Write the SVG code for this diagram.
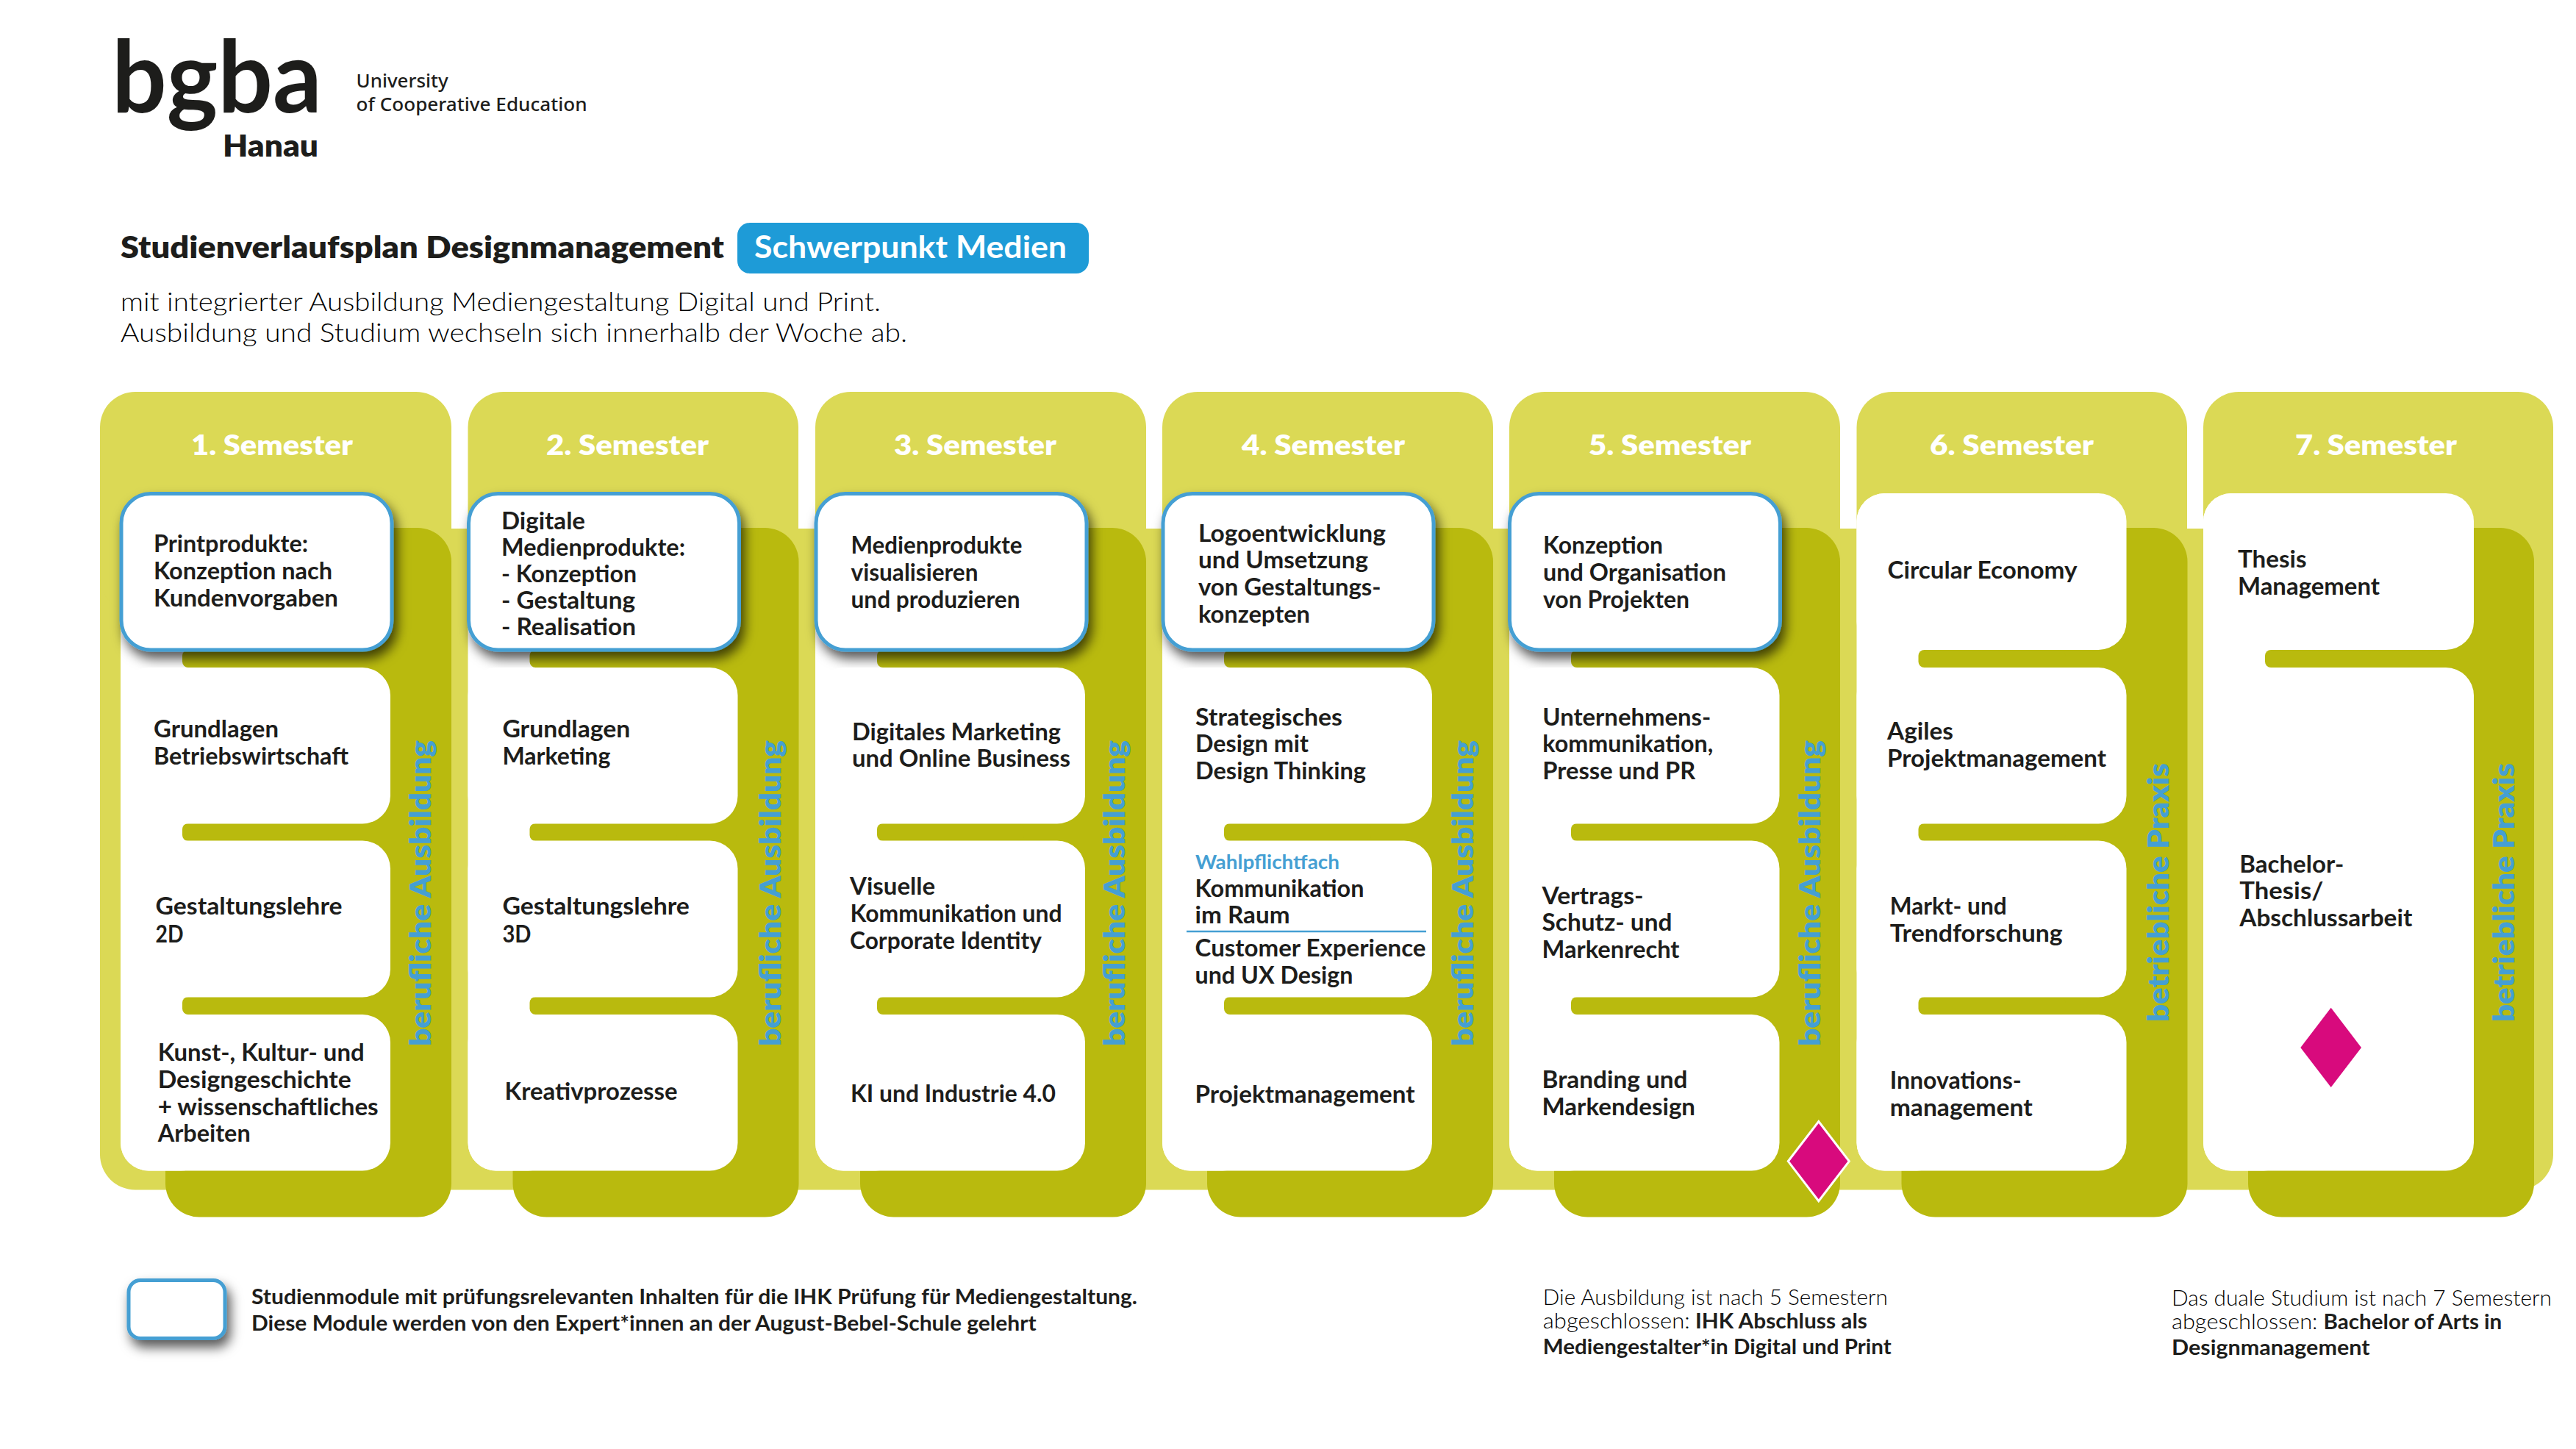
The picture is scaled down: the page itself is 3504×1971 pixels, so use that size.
<svg xmlns="http://www.w3.org/2000/svg" width="3504" height="1971" viewBox="0 0 3504 1971">
<style>
text{font-family:"Lato","Liberation Sans",sans-serif;fill:#1d1d1b}
.t{font-size:32px;font-weight:700;transform:translate(-1px,1.5px)}
.sem{font-size:37px;font-weight:800;fill:#fff}
.rot{font-size:40px;font-weight:800;fill:#459fd3}
.light{fill:#dbd955}
.dark{fill:#b9ba0e}
.card{fill:#fff}
.hi{fill:#fff;stroke:#459fd3;stroke-width:5;filter:url(#sh)}
.dia{fill:#d80a7d}
.thin{font-size:29px;font-weight:300;fill:#000;transform:translateY(2px)}
.bold{font-size:29px;font-weight:700}
.nb{transform:translateY(2px)}
.logo{font-family:"Noto Sans","Lato",sans-serif;font-size:26px;font-weight:500}
</style>
<defs>
<filter id="sh" x="-20%" y="-20%" width="140%" height="170%"><feDropShadow dx="5" dy="10" stdDeviation="8" flood-color="#000" flood-opacity=".65"/></filter>
<rect id="bar" width="200" height="24" rx="8" class="dark"/>
</defs>
<rect width="3504" height="1971" fill="#fff"/>

<g id="header">
<text x="152" y="153" font-size="136" font-weight="700" textLength="286" lengthAdjust="spacingAndGlyphs">bgba</text>
<text x="303" y="213" font-size="42" font-weight="800" textLength="130" lengthAdjust="spacingAndGlyphs">Hanau</text>
<text class="logo" x="484.6" y="119" textLength="125" lengthAdjust="spacingAndGlyphs">University</text>
<text class="logo" x="484.6" y="151" textLength="314" lengthAdjust="spacingAndGlyphs">of Cooperative Education</text>
<text x="164" y="351" font-size="42" font-weight="800" textLength="821" lengthAdjust="spacingAndGlyphs">Studienverlaufsplan Designmanagement</text>
<rect x="1003" y="303" width="478" height="69" rx="17" fill="#1e9bd7"/>
<text x="1026" y="351" font-size="42" font-weight="700" style="fill:#fff" textLength="425" lengthAdjust="spacingAndGlyphs">Schwerpunkt Medien</text>
<text x="164" y="423" font-size="35" font-weight="300" style="fill:#000" textLength="1034" lengthAdjust="spacingAndGlyphs">mit integrierter Ausbildung Mediengestaltung Digital und Print.</text>
<text x="164" y="465" font-size="35" font-weight="300" style="fill:#000" textLength="1070" lengthAdjust="spacingAndGlyphs">Ausbildung und Studium wechseln sich innerhalb der Woche ab.</text>
</g>

<g id="background">
<rect class="light" x="136" y="719" width="3337" height="899.5" rx="48"/>
<rect class="light" x="136" y="533" width="478" height="300" rx="48"/>
<rect class="light" x="636.5" y="533" width="449.5" height="300" rx="48"/>
<rect class="light" x="1109" y="533" width="450" height="300" rx="48"/>
<rect class="light" x="1581" y="533" width="450" height="300" rx="48"/>
<rect class="light" x="2053" y="533" width="450" height="300" rx="48"/>
<rect class="light" x="2525.5" y="533" width="449.5" height="300" rx="48"/>
<rect class="light" x="2997" y="533" width="476" height="300" rx="48"/>
<rect class="dark" x="225" y="718" width="389" height="937.5" rx="46"/>
<rect class="dark" x="697.5" y="718" width="389" height="937.5" rx="46"/>
<rect class="dark" x="1170" y="718" width="389" height="937.5" rx="46"/>
<rect class="dark" x="1642" y="718" width="389" height="937.5" rx="46"/>
<rect class="dark" x="2114" y="718" width="389" height="937.5" rx="46"/>
<rect class="dark" x="2586.5" y="718" width="389" height="937.5" rx="46"/>
<rect class="dark" x="3058" y="718" width="389" height="937.5" rx="46"/>
<rect class="card" x="164" y="671" width="120" height="921.5" rx="38"/>
<rect class="card" x="636.5" y="671" width="120" height="921.5" rx="38"/>
<rect class="card" x="1109" y="671" width="120" height="921.5" rx="38"/>
<rect class="card" x="1581" y="671" width="120" height="921.5" rx="38"/>
<rect class="card" x="2053" y="671" width="120" height="921.5" rx="38"/>
<rect class="card" x="2525.5" y="671" width="120" height="921.5" rx="38"/>
<rect class="card" x="2997" y="671" width="120" height="921.5" rx="38"/>
</g>

<g id="connectors">
<use href="#bar" x="248" y="884"/><use href="#bar" x="248" y="1120"/><use href="#bar" x="248" y="1356"/>
<use href="#bar" x="720.5" y="884"/><use href="#bar" x="720.5" y="1120"/><use href="#bar" x="720.5" y="1356"/>
<use href="#bar" x="1193" y="884"/><use href="#bar" x="1193" y="1120"/><use href="#bar" x="1193" y="1356"/>
<use href="#bar" x="1665" y="884"/><use href="#bar" x="1665" y="1120"/><use href="#bar" x="1665" y="1356"/>
<use href="#bar" x="2137" y="884"/><use href="#bar" x="2137" y="1120"/><use href="#bar" x="2137" y="1356"/>
<use href="#bar" x="2609.5" y="884"/><use href="#bar" x="2609.5" y="1120"/><use href="#bar" x="2609.5" y="1356"/>
<use href="#bar" x="3081" y="884"/>
</g>

<g id="semester-labels">
<text class="sem" x="260" y="618.7" textLength="220" lengthAdjust="spacingAndGlyphs">1. Semester</text>
<text class="sem" x="743" y="618.7" textLength="221" lengthAdjust="spacingAndGlyphs">2. Semester</text>
<text class="sem" x="1216" y="618.7" textLength="221" lengthAdjust="spacingAndGlyphs">3. Semester</text>
<text class="sem" x="1689" y="618.7" textLength="222" lengthAdjust="spacingAndGlyphs">4. Semester</text>
<text class="sem" x="2161" y="618.7" textLength="221" lengthAdjust="spacingAndGlyphs">5. Semester</text>
<text class="sem" x="2625" y="618.7" textLength="223" lengthAdjust="spacingAndGlyphs">6. Semester</text>
<text class="sem" x="3122" y="618.7" textLength="220" lengthAdjust="spacingAndGlyphs">7. Semester</text>
</g>

<g id="side-labels">
<text class="rot" transform="translate(586 1423) rotate(-90)" textLength="416" lengthAdjust="spacingAndGlyphs">berufliche Ausbildung</text>
<text class="rot" transform="translate(1062 1423) rotate(-90)" textLength="416" lengthAdjust="spacingAndGlyphs">berufliche Ausbildung</text>
<text class="rot" transform="translate(1530 1423) rotate(-90)" textLength="416" lengthAdjust="spacingAndGlyphs">berufliche Ausbildung</text>
<text class="rot" transform="translate(2004 1423) rotate(-90)" textLength="416" lengthAdjust="spacingAndGlyphs">berufliche Ausbildung</text>
<text class="rot" transform="translate(2476 1423) rotate(-90)" textLength="416" lengthAdjust="spacingAndGlyphs">berufliche Ausbildung</text>
<text class="rot" transform="translate(2950 1390) rotate(-90)" textLength="352" lengthAdjust="spacingAndGlyphs">betriebliche Praxis</text>
<text class="rot" transform="translate(3420 1390) rotate(-90)" textLength="352" lengthAdjust="spacingAndGlyphs">betriebliche Praxis</text>
</g>

<g id="s1-m1"><rect class="hi" x="165" y="671.5" width="368" height="212.5" rx="40"/>
<text class="t" x="210" y="749.6" textLength="210" lengthAdjust="spacingAndGlyphs">Printprodukte:</text>
<text class="t" x="210" y="786.7" textLength="243" lengthAdjust="spacingAndGlyphs">Konzeption nach</text>
<text class="t" x="210" y="823.5" textLength="251" lengthAdjust="spacingAndGlyphs">Kundenvorgaben</text></g>
<g id="s1-m2"><rect class="card" x="164" y="908" width="367" height="212.5" rx="38"/>
<text class="t" x="210" y="1001.4" textLength="170" lengthAdjust="spacingAndGlyphs">Grundlagen</text>
<text class="t" x="210" y="1038.6" textLength="265" lengthAdjust="spacingAndGlyphs">Betriebswirtschaft</text></g>
<g id="s1-m3"><rect class="card" x="164" y="1143.5" width="367" height="213" rx="38"/>
<text class="t" x="212.5" y="1242.7" textLength="254" lengthAdjust="spacingAndGlyphs">Gestaltungslehre</text>
<text class="t" x="212.5" y="1280" textLength="38" lengthAdjust="spacingAndGlyphs">2D</text></g>
<g id="s1-m4"><rect class="card" x="164" y="1380" width="367" height="212.5" rx="38"/>
<text class="t" x="215.7" y="1441" textLength="281" lengthAdjust="spacingAndGlyphs">Kunst-, Kultur- und</text>
<text class="t" x="215.7" y="1478" textLength="263" lengthAdjust="spacingAndGlyphs">Designgeschichte</text>
<text class="t" x="215.7" y="1515" textLength="300" lengthAdjust="spacingAndGlyphs">+ wissenschaftliches</text>
<text class="t" x="215.7" y="1551.6" textLength="126" lengthAdjust="spacingAndGlyphs">Arbeiten</text></g>

<g id="s2-m1"><rect class="hi" x="637.5" y="671.5" width="368" height="212.5" rx="40"/>
<text class="t" x="683" y="718" textLength="114" lengthAdjust="spacingAndGlyphs">Digitale</text>
<text class="t" x="683" y="754.6" textLength="250" lengthAdjust="spacingAndGlyphs">Medienprodukte:</text>
<text class="t" x="683" y="790" textLength="184" lengthAdjust="spacingAndGlyphs">- Konzeption</text>
<text class="t" x="683" y="826" textLength="182" lengthAdjust="spacingAndGlyphs">- Gestaltung</text>
<text class="t" x="683" y="862" textLength="183" lengthAdjust="spacingAndGlyphs">- Realisation</text></g>
<g id="s2-m2"><rect class="card" x="636.5" y="908" width="367" height="212.5" rx="38"/>
<text class="t" x="684.4" y="1001.4" textLength="174" lengthAdjust="spacingAndGlyphs">Grundlagen</text>
<text class="t" x="684.4" y="1038.6" textLength="147" lengthAdjust="spacingAndGlyphs">Marketing</text></g>
<g id="s2-m3"><rect class="card" x="636.5" y="1143.5" width="367" height="213" rx="38"/>
<text class="t" x="684.4" y="1242.7" textLength="254.5" lengthAdjust="spacingAndGlyphs">Gestaltungslehre</text>
<text class="t" x="684.4" y="1280" textLength="39" lengthAdjust="spacingAndGlyphs">3D</text></g>
<g id="s2-m4"><rect class="card" x="636.5" y="1380" width="367" height="212.5" rx="38"/>
<text class="t" x="687.6" y="1494" textLength="235" lengthAdjust="spacingAndGlyphs">Kreativprozesse</text></g>

<g id="s3-m1"><rect class="hi" x="1110" y="671.5" width="368" height="212.5" rx="40"/>
<text class="t" x="1158.5" y="751.7" textLength="233" lengthAdjust="spacingAndGlyphs">Medienprodukte</text>
<text class="t" x="1158.5" y="788" textLength="173" lengthAdjust="spacingAndGlyphs">visualisieren</text>
<text class="t" x="1158.5" y="825" textLength="230" lengthAdjust="spacingAndGlyphs">und produzieren</text></g>
<g id="s3-m2"><rect class="card" x="1109" y="908" width="367" height="212.5" rx="38"/>
<text class="t" x="1160" y="1005" textLength="284" lengthAdjust="spacingAndGlyphs">Digitales Marketing</text>
<text class="t" x="1160" y="1041.7" textLength="297" lengthAdjust="spacingAndGlyphs">und Online Business</text></g>
<g id="s3-m3"><rect class="card" x="1109" y="1143.5" width="367" height="213" rx="38"/>
<text class="t" x="1157" y="1215" textLength="116" lengthAdjust="spacingAndGlyphs">Visuelle</text>
<text class="t" x="1157.5" y="1252.3" textLength="288" lengthAdjust="spacingAndGlyphs">Kommunikation und</text>
<text class="t" x="1157" y="1289" textLength="261" lengthAdjust="spacingAndGlyphs">Corporate Identity</text></g>
<g id="s3-m4"><rect class="card" x="1109" y="1380" width="367" height="212.5" rx="38"/>
<text class="t" x="1158" y="1497.3" textLength="279" lengthAdjust="spacingAndGlyphs">KI und Industrie 4.0</text></g>

<g id="s4-m1"><rect class="hi" x="1582" y="671.5" width="368" height="212.5" rx="40"/>
<text class="t" x="1631" y="735" textLength="255" lengthAdjust="spacingAndGlyphs">Logoentwicklung</text>
<text class="t" x="1631" y="771" textLength="231" lengthAdjust="spacingAndGlyphs">und Umsetzung</text>
<text class="t" x="1631" y="808" textLength="248.6" lengthAdjust="spacingAndGlyphs">von Gestaltungs-</text>
<text class="t" x="1631" y="845" textLength="152" lengthAdjust="spacingAndGlyphs">konzepten</text></g>
<g id="s4-m2"><rect class="card" x="1581" y="908" width="367" height="212.5" rx="38"/>
<text class="t" x="1627" y="985" textLength="200" lengthAdjust="spacingAndGlyphs">Strategisches</text>
<text class="t" x="1627" y="1021.7" textLength="154" lengthAdjust="spacingAndGlyphs">Design mit</text>
<text class="t" x="1627" y="1058" textLength="232" lengthAdjust="spacingAndGlyphs">Design Thinking</text></g>
<g id="s4-m3"><rect class="card" x="1581" y="1143.5" width="367" height="213" rx="38"/>
<text x="1626" y="1182" font-size="26" font-weight="700" style="fill:#459fd3" textLength="196" lengthAdjust="spacingAndGlyphs">Wahlpflichtfach</text>
<text class="t" x="1626.5" y="1218.6" textLength="230" lengthAdjust="spacingAndGlyphs">Kommunikation</text>
<text class="t" x="1626.5" y="1254" textLength="129" lengthAdjust="spacingAndGlyphs">im Raum</text>
<line x1="1614" y1="1267" x2="1940" y2="1267" stroke="#459fd3" stroke-width="2.5"/>
<text class="t" x="1626.5" y="1299" textLength="314" lengthAdjust="spacingAndGlyphs">Customer Experience</text>
<text class="t" x="1626.5" y="1336" textLength="215" lengthAdjust="spacingAndGlyphs">und UX Design</text></g>
<g id="s4-m4"><rect class="card" x="1581" y="1380" width="367" height="212.5" rx="38"/>
<text class="t" x="1626.5" y="1498" textLength="299" lengthAdjust="spacingAndGlyphs">Projektmanagement</text></g>

<g id="s5-m1"><rect class="hi" x="2053.5" y="671.5" width="368" height="212.5" rx="40"/>
<text class="t" x="2100" y="751.7" textLength="163" lengthAdjust="spacingAndGlyphs">Konzeption</text>
<text class="t" x="2100" y="788.3" textLength="249" lengthAdjust="spacingAndGlyphs">und Organisation</text>
<text class="t" x="2100" y="825" textLength="199" lengthAdjust="spacingAndGlyphs">von Projekten</text></g>
<g id="s5-m2"><rect class="card" x="2053" y="908" width="367.5" height="212.5" rx="38"/>
<text class="t" x="2099.3" y="985" textLength="229" lengthAdjust="spacingAndGlyphs">Unternehmens-</text>
<text class="t" x="2099.3" y="1021.7" textLength="232" lengthAdjust="spacingAndGlyphs">kommunikation,</text>
<text class="t" x="2099.3" y="1058" textLength="208" lengthAdjust="spacingAndGlyphs">Presse und PR</text></g>
<g id="s5-m3"><rect class="card" x="2053" y="1143.5" width="367.5" height="213" rx="38"/>
<text class="t" x="2098.5" y="1228" textLength="138" lengthAdjust="spacingAndGlyphs">Vertrags-</text>
<text class="t" x="2098.5" y="1264.6" textLength="177" lengthAdjust="spacingAndGlyphs">Schutz- und</text>
<text class="t" x="2098.5" y="1301.7" textLength="187" lengthAdjust="spacingAndGlyphs">Markenrecht</text></g>
<g id="s5-m4"><rect class="card" x="2053" y="1380" width="367.5" height="212.5" rx="38"/>
<text class="t" x="2098.5" y="1478" textLength="198" lengthAdjust="spacingAndGlyphs">Branding und</text>
<text class="t" x="2098.5" y="1515" textLength="208.5" lengthAdjust="spacingAndGlyphs">Markendesign</text></g>

<g id="s6-m1"><rect class="card" x="2525.5" y="671" width="367" height="213" rx="38"/>
<text class="t" x="2568.5" y="785" textLength="258" lengthAdjust="spacingAndGlyphs">Circular Economy</text></g>
<g id="s6-m2"><rect class="card" x="2525.5" y="908" width="367" height="212.5" rx="38"/>
<text class="t" x="2568" y="1004" textLength="90" lengthAdjust="spacingAndGlyphs">Agiles</text>
<text class="t" x="2568" y="1041" textLength="298" lengthAdjust="spacingAndGlyphs">Projektmanagement</text></g>
<g id="s6-m3"><rect class="card" x="2525.5" y="1143.5" width="367" height="213" rx="38"/>
<text class="t" x="2571.7" y="1242.7" textLength="159" lengthAdjust="spacingAndGlyphs">Markt- und</text>
<text class="t" x="2571.7" y="1279.3" textLength="235" lengthAdjust="spacingAndGlyphs">Trendforschung</text></g>
<g id="s6-m4"><rect class="card" x="2525.5" y="1380" width="367" height="212.5" rx="38"/>
<text class="t" x="2571.7" y="1479.3" textLength="179" lengthAdjust="spacingAndGlyphs">Innovations-</text>
<text class="t" x="2571.7" y="1516" textLength="194" lengthAdjust="spacingAndGlyphs">management</text></g>

<g id="s7-m1"><rect class="card" x="2997" y="671" width="368" height="213" rx="38"/>
<text class="t" x="3045" y="770.7" textLength="93.5" lengthAdjust="spacingAndGlyphs">Thesis</text>
<text class="t" x="3045" y="807.8" textLength="193" lengthAdjust="spacingAndGlyphs">Management</text></g>
<g id="s7-m2"><rect class="card" x="2997" y="908" width="368" height="684.5" rx="38"/>
<text class="t" x="3047.3" y="1185" textLength="142" lengthAdjust="spacingAndGlyphs">Bachelor-</text>
<text class="t" x="3047.3" y="1221.7" textLength="114" lengthAdjust="spacingAndGlyphs">Thesis/</text>
<text class="t" x="3047.3" y="1258" textLength="235" lengthAdjust="spacingAndGlyphs">Abschlussarbeit</text></g>

<g id="markers">
<polygon class="dia" points="2473.8,1525.5 2515.3,1579.6 2473.8,1633.7 2432.3,1579.6" stroke="#fff" stroke-width="3" stroke-miterlimit="10"/>
<polygon class="dia" points="3170.7,1370.7 3212,1425 3170.7,1479 3129.3,1425"/>
</g>

<g id="legend">
<rect class="hi" x="175" y="1741.5" width="131" height="79" rx="16"/>
<text class="bold" x="342" y="1774" textLength="1205" lengthAdjust="spacingAndGlyphs">Studienmodule mit prüfungsrelevanten Inhalten für die IHK Prüfung für Mediengestaltung.</text>
<text class="bold" x="342" y="1810" textLength="1067.6" lengthAdjust="spacingAndGlyphs">Diese Module werden von den Expert*innen an der August-Bebel-Schule gelehrt</text>
</g>

<g id="note-ausbildung">
<text class="thin" x="2098.8" y="1773" textLength="469" lengthAdjust="spacingAndGlyphs">Die Ausbildung ist nach 5 Semestern</text>
<text class="thin" x="2098.8" y="1805.3" textLength="200" lengthAdjust="spacingAndGlyphs">abgeschlossen:</text>
<text class="bold nb" x="2306" y="1805.3" textLength="234" lengthAdjust="spacingAndGlyphs">IHK Abschluss als</text>
<text class="bold nb" x="2098.8" y="1839.5" textLength="474" lengthAdjust="spacingAndGlyphs">Mediengestalter*in Digital und Print</text>
</g>
<g id="note-studium">
<text class="thin" x="2954" y="1774" textLength="517" lengthAdjust="spacingAndGlyphs">Das duale Studium ist nach 7 Semestern</text>
<text class="thin" x="2954" y="1806" textLength="198.5" lengthAdjust="spacingAndGlyphs">abgeschlossen:</text>
<text class="bold nb" x="3160.6" y="1806" textLength="242.7" lengthAdjust="spacingAndGlyphs">Bachelor of Arts in</text>
<text class="bold nb" x="2954" y="1840.5" textLength="269.5" lengthAdjust="spacingAndGlyphs">Designmanagement</text>
</g>
</svg>
